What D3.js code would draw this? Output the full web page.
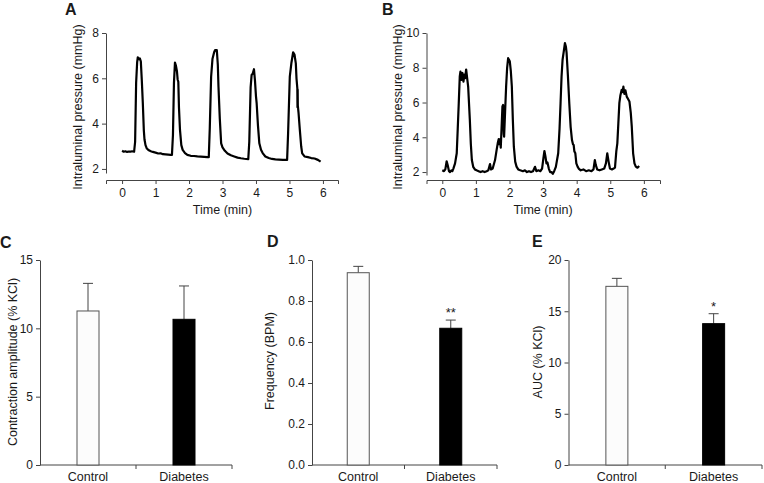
<!DOCTYPE html>
<html><head><meta charset="utf-8">
<script src="https://cdn.jsdelivr.net/npm/d3@7"></script>
<style>
body{margin:0;background:#fff}
svg{display:block}
text{font-family:"Liberation Sans",Arial,Helvetica,sans-serif;fill:#1a1a1a}
</style>
</head><body>
<svg id="chart" width="764" height="483"></svg>
<script>
// ---------- DATA ----------
const traceATime = [0.00,0.05,0.10,0.15,0.20,0.25,0.30,0.36,0.39,0.42,0.45,0.47,0.50,0.53,0.56,0.59,0.62,0.65,0.67,0.70,0.74,0.80,0.86,0.92,1.00,1.08,1.15,1.22,1.30,1.38,1.45,1.49,1.52,1.55,1.58,1.61,1.64,1.66,1.68,1.70,1.73,1.77,1.81,1.88,1.95,2.05,2.15,2.25,2.35,2.45,2.55,2.59,2.62,2.66,2.70,2.75,2.78,2.83,2.86,2.88,2.92,2.96,3.00,3.07,3.15,3.25,3.35,3.45,3.55,3.65,3.77,3.80,3.84,3.87,3.90,3.94,3.97,4.00,4.02,4.06,4.10,4.15,4.20,4.28,4.38,4.48,4.58,4.68,4.80,4.93,4.96,5.01,5.06,5.11,5.15,5.19,5.21,5.235,5.24,5.245,5.25,5.27,5.31,5.35,5.38,5.45,5.55,5.65,5.75,5.85,5.93];
const traceAPressure = [2.80,2.76,2.78,2.75,2.77,2.76,2.78,2.76,3.20,5.80,6.70,6.93,6.85,6.88,6.75,5.90,4.90,3.70,3.30,3.05,2.90,2.82,2.78,2.75,2.72,2.68,2.69,2.65,2.64,2.63,2.62,2.62,3.50,5.80,6.69,6.55,6.30,5.95,5.85,4.70,3.72,3.05,2.84,2.70,2.62,2.58,2.57,2.55,2.54,2.53,2.52,2.52,3.80,6.07,6.85,7.15,7.25,7.25,6.60,5.63,4.20,3.13,2.95,2.80,2.68,2.60,2.55,2.50,2.47,2.45,2.43,3.20,5.60,6.15,6.20,6.40,5.90,5.20,4.90,3.90,3.13,2.85,2.70,2.55,2.48,2.44,2.42,2.41,2.40,2.40,3.60,6.07,6.70,7.15,7.05,6.66,6.00,5.56,4.72,5.50,4.80,4.50,3.72,3.00,2.69,2.55,2.52,2.48,2.46,2.40,2.32];

const traceBTime = [0.00,0.05,0.09,0.13,0.16,0.20,0.23,0.27,0.30,0.33,0.38,0.43,0.46,0.49,0.52,0.54,0.57,0.60,0.63,0.66,0.68,0.71,0.74,0.77,0.82,0.85,0.88,0.92,0.97,1.02,1.08,1.14,1.20,1.26,1.32,1.37,1.42,1.45,1.50,1.57,1.62,1.65,1.68,1.70,1.72,1.74,1.77,1.79,1.81,1.83,1.84,1.87,1.90,1.93,1.96,1.99,2.01,2.04,2.07,2.10,2.13,2.17,2.21,2.26,2.32,2.40,2.46,2.52,2.58,2.64,2.70,2.76,2.80,2.86,2.92,2.97,3.01,3.04,3.07,3.10,3.13,3.17,3.21,3.25,3.29,3.33,3.38,3.45,3.49,3.52,3.55,3.58,3.62,3.65,3.68,3.70,3.74,3.78,3.82,3.86,3.89,3.91,3.93,3.96,3.99,4.03,4.06,4.12,4.20,4.28,4.36,4.44,4.50,4.54,4.57,4.61,4.68,4.75,4.82,4.87,4.91,4.95,4.99,5.05,5.10,5.14,5.18,5.21,5.24,5.27,5.30,5.34,5.37,5.39,5.42,5.45,5.49,5.53,5.57,5.61,5.64,5.68,5.72,5.76,5.81,5.86];
const traceBPressure = [2.10,2.05,2.15,2.62,2.40,2.05,2.00,2.10,2.05,2.20,2.50,3.08,4.50,5.96,7.50,7.78,7.30,7.70,7.20,7.60,7.40,7.90,7.40,6.92,5.00,3.60,2.69,2.30,2.15,2.10,2.05,2.00,2.05,2.00,2.05,2.10,2.46,2.15,2.20,2.69,3.30,3.65,3.90,3.60,3.88,3.40,4.80,5.77,5.86,4.20,4.04,5.50,6.92,8.00,8.55,8.45,8.36,7.80,6.92,5.00,3.46,2.60,2.31,2.15,2.10,2.05,2.10,2.00,2.05,2.00,2.05,2.30,2.05,2.10,2.05,2.20,2.80,3.21,2.90,2.50,2.55,2.20,2.00,2.00,1.90,2.05,2.30,3.08,4.50,5.96,7.50,8.46,9.00,9.42,9.20,8.85,7.50,5.96,4.60,3.84,3.60,3.56,3.20,3.08,2.50,2.30,2.20,2.10,2.15,2.05,2.10,2.05,2.15,2.69,2.40,2.15,2.10,2.15,2.20,2.50,3.08,2.60,2.20,2.15,2.20,2.25,3.20,3.65,4.80,5.96,6.40,6.73,6.60,6.92,6.50,6.70,6.34,6.20,6.06,5.40,4.61,3.08,2.50,2.31,2.25,2.35];

const timeTicks = [0,1,2,3,4,5,6];
const pressureTicksA = [2,4,6,8];
const pressureTicksB = [2,4,6,8,10];

const groups = ["Control","Diabetes"];
const amplitudeMean = [11.27,10.66];
const amplitudeSEM  = [2.02,2.44];
const frequencyMean = [0.938,0.667];
const frequencySEM  = [0.031,0.040];
const aucMean = [17.43,13.79];
const aucSEM  = [0.78,0.97];
const frequencyStars = ["","**"];
const aucStars = ["","*"];
const amplitudeTicks = [0,5,10,15];
const frequencyTicks = [0,0.2,0.4,0.6,0.8,1.0];
const aucTicks = [0,5,10,15,20];

// ---------- DRAW ----------
const svg = d3.select("#chart");
const axisColor = "#444";

function styleAxis(g){
  g.selectAll("path.domain").attr("stroke",axisColor).attr("stroke-width",1);
  g.selectAll(".tick line").attr("stroke",axisColor).attr("stroke-width",1);
  g.selectAll(".tick text").style("font-size","12px").attr("fill","#1a1a1a")
   .style("font-family","'Liberation Sans',Arial,sans-serif");
}

function panelLetter(txt,x,y){
  svg.append("text").attr("x",x).attr("y",y).text(txt)
    .style("font-size","16px").style("font-weight","bold");
}
function yTitle(txt,x,y){
  svg.append("text").attr("transform",`translate(${x},${y}) rotate(-90)`)
    .attr("text-anchor","middle").attr("dy","0.35em").text(txt)
    .style("font-size","12.5px");
}

function tracePanel(o){
  const x = d3.scaleLinear().domain(o.xDomain).range(o.xRange);
  const y = d3.scaleLinear().domain(o.yDomain).range(o.yRange);
  const gx = svg.append("g").attr("transform",`translate(0,${o.xAxisY})`)
    .call(d3.axisBottom(x).tickValues(o.xTicks).tickSize(4).tickSizeOuter(4).tickPadding(4).tickFormat(d3.format("d")));
  styleAxis(gx);
  const gy = svg.append("g").attr("transform",`translate(${o.xRange[0]},0)`)
    .call(d3.axisLeft(y).tickValues(o.yTicks).tickSize(4).tickSizeOuter(0).tickPadding(3).tickFormat(d3.format("d")));
  styleAxis(gy);
  const pts = o.t.map((t,i)=>[t,o.p[i]]);
  svg.append("path").datum(pts)
    .attr("d", d3.line().x(d=>x(d[0])).y(d=>y(d[1])))
    .attr("fill","none").attr("stroke","#000").attr("stroke-width",2.2).attr("stroke-linejoin","round");
  svg.append("text").attr("x",x(3)).attr("y",o.xAxisY+34).attr("text-anchor","middle")
    .text("Time (min)").style("font-size","12.5px");
}

tracePanel({xDomain:[-0.48,6.45], xRange:[106,338], yDomain:[1.82,8], yRange:[173,33],
  xAxisY:180, xTicks:timeTicks, yTicks:pressureTicksA, t:traceATime, p:traceAPressure});
tracePanel({xDomain:[-0.47,6.48], xRange:[426.5,660], yDomain:[1.83,10], yRange:[175,33],
  xAxisY:180, xTicks:timeTicks, yTicks:pressureTicksB, t:traceBTime, p:traceBPressure});

yTitle("Intraluminal pressure (mmHg)",78,107);
yTitle("Intraluminal pressure (mmHg)",398,107);
panelLetter("A",65,15);
panelLetter("B",382,15);

function barPanel(o){
  const x = d3.scaleBand().domain(groups).range(o.xRange).paddingInner(0).paddingOuter(0);
  const y = d3.scaleLinear().domain(o.yDomain).range([465,260]);
  const gy = svg.append("g").attr("transform",`translate(${o.xRange[0]},0)`)
    .call(d3.axisLeft(y).tickValues(o.yTicks).tickSize(4).tickSizeOuter(0).tickPadding(3).tickFormat(o.fmt));
  styleAxis(gy);
  const gx = svg.append("g").attr("transform","translate(0,465)");
  gx.append("path").attr("d",`M${o.xRange[0]},0H${o.xRange[1]}`).attr("stroke",axisColor).attr("fill","none");
  groups.forEach(g=>{
    const xb = x(g)+x.bandwidth();
    gx.append("line").attr("x1",xb).attr("x2",xb).attr("y1",0).attr("y2",4).attr("stroke",axisColor);
    gx.append("text").attr("x",x(g)+x.bandwidth()/2).attr("y",16).attr("text-anchor","middle")
      .text(g).style("font-size","12.5px");
  });
  const bw = 22;
  groups.forEach((g,i)=>{
    const cx = x(g)+x.bandwidth()/2;
    const top = y(o.mean[i]), etop = y(o.mean[i]+o.sem[i]);
    svg.append("line").attr("x1",cx).attr("x2",cx).attr("y1",top).attr("y2",etop).attr("stroke","#444");
    svg.append("line").attr("x1",cx-5).attr("x2",cx+5).attr("y1",etop).attr("y2",etop).attr("stroke","#444");
    svg.append("rect").attr("x",cx-bw/2).attr("y",top).attr("width",bw).attr("height",465-top)
      .attr("fill", i===0 ? "#fcfcfc" : "#000").attr("stroke", i===0 ? "#555" : "#000").attr("stroke-width",1);
    if(o.stars && o.stars[i]){
      svg.append("text").attr("x",cx).attr("y",etop-3).attr("text-anchor","middle")
        .text(o.stars[i]).style("font-size","13px").attr("fill","#333");
    }
  });
}

barPanel({xRange:[40,232], yDomain:[0,15], yTicks:amplitudeTicks, fmt:d3.format("d"),
  mean:amplitudeMean, sem:amplitudeSEM});
barPanel({xRange:[312,497], yDomain:[0,1], yTicks:frequencyTicks, fmt:d3.format(".1f"),
  mean:frequencyMean, sem:frequencySEM, stars:frequencyStars});
barPanel({xRange:[568.5,762], yDomain:[0,20], yTicks:aucTicks, fmt:d3.format("d"),
  mean:aucMean, sem:aucSEM, stars:aucStars});

yTitle("Contraction amplitude (% KCl)",13,362);
yTitle("Frequency (BPM)",270,361);
yTitle("AUC (% KCl)",538,362);
panelLetter("C",0,248);
panelLetter("D",267,247);
panelLetter("E",532,247);
</script>
</body></html>
